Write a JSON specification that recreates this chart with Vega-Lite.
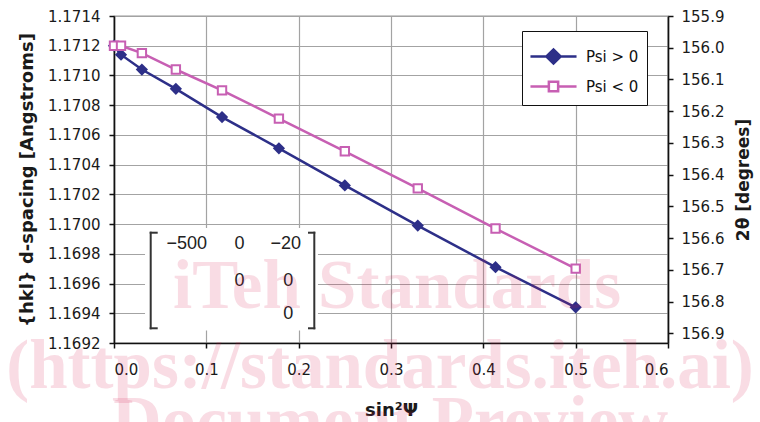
{
  "$schema": "https://vega.github.io/schema/vega-lite/v6.json",
  "width": 554,
  "height": 327,
  "autosize": {"type": "none"},
  "padding": {"left": 114, "top": 16, "right": 92, "bottom": 79},
  "background": "white",
  "config": {
    "font": "DejaVu Sans",
    "view": {"stroke": "#333333", "strokeWidth": 1.2},
    "axis": {
      "labelFont": "DejaVu Sans",
      "labelFontSize": 15,
      "labelColor": "#1a1a1a",
      "titleFont": "DejaVu Sans",
      "titleFontSize": 17,
      "titleFontWeight": "bold",
      "titleColor": "#1a1a1a",
      "domainColor": "#111111",
      "domainWidth": 1.6,
      "tickColor": "#111111",
      "tickWidth": 1.5,
      "tickSize": 5,
      "gridColor": "#a3a3a3",
      "gridWidth": 1.2
    }
  },
  "datasets": {
    "dspacing": [
      {"s": 0, "d": 1.1712, "series": "Psi > 0"},
      {"s": 0.0076, "d": 1.17114, "series": "Psi > 0"},
      {"s": 0.0302, "d": 1.17104, "series": "Psi > 0"},
      {"s": 0.067, "d": 1.17091, "series": "Psi > 0"},
      {"s": 0.117, "d": 1.17072, "series": "Psi > 0"},
      {"s": 0.1786, "d": 1.17051, "series": "Psi > 0"},
      {"s": 0.25, "d": 1.17026, "series": "Psi > 0"},
      {"s": 0.329, "d": 1.16999, "series": "Psi > 0"},
      {"s": 0.4132, "d": 1.16971, "series": "Psi > 0"},
      {"s": 0.5, "d": 1.16944, "series": "Psi > 0"},
      {"s": 0, "d": 1.1712, "series": "Psi < 0"},
      {"s": 0.0076, "d": 1.1712, "series": "Psi < 0"},
      {"s": 0.0302, "d": 1.17115, "series": "Psi < 0"},
      {"s": 0.067, "d": 1.17104, "series": "Psi < 0"},
      {"s": 0.117, "d": 1.1709, "series": "Psi < 0"},
      {"s": 0.1786, "d": 1.17071, "series": "Psi < 0"},
      {"s": 0.25, "d": 1.17049, "series": "Psi < 0"},
      {"s": 0.329, "d": 1.17024, "series": "Psi < 0"},
      {"s": 0.4132, "d": 1.16997, "series": "Psi < 0"},
      {"s": 0.5, "d": 1.1697, "series": "Psi < 0"}
    ],
    "matrixBox": [
      {"s": 0.0336, "s2": 0.2209, "d": 1.169974, "d2": 1.169284}
    ],
    "brackets": [
      {"s": 0.03975, "s2": 0.03975, "d": 1.169942, "d2": 1.169299},
      {"s": 0.03975, "s2": 0.04625, "d": 1.169942, "d2": 1.169942},
      {"s": 0.03975, "s2": 0.04625, "d": 1.169299, "d2": 1.169299},
      {"s": 0.21693, "s2": 0.21693, "d": 1.169942, "d2": 1.169299},
      {"s": 0.21119, "s2": 0.21693, "d": 1.169942, "d2": 1.169942},
      {"s": 0.21119, "s2": 0.21693, "d": 1.169299, "d2": 1.169299}
    ],
    "matrixEntries": [
      {"s": 0.0787, "d": 1.169863, "label": "−500"},
      {"s": 0.1359, "d": 1.169863, "label": "0"},
      {"s": 0.1859, "d": 1.169863, "label": "−20"},
      {"s": 0.1359, "d": 1.169617, "label": "0"},
      {"s": 0.1888, "d": 1.169617, "label": "0"},
      {"s": 0.1888, "d": 1.169397, "label": "0"}
    ],
    "stamp": [
      {"s": 0.3065, "d": 1.169435, "label": "iTeh Standards"},
      {"s": 0.2881, "d": 1.168897, "label": "(https://standards.iteh.ai)"},
      {"s": 0.2989, "d": 1.16852, "label": "Document Preview"}
    ],
    "twoTheta": [
      {"tt": 155.9},
      {"tt": 156.9}
    ]
  },
  "layer": [
    {
      "encoding": {
        "x": {
          "field": "s",
          "type": "quantitative",
          "scale": {"domain": [0, 0.6], "nice": false, "zero": false},
          "axis": {
            "title": "sin²Ψ",
            "titleFontSize": 18,
            "values": [0, 0.1, 0.2, 0.3, 0.4, 0.5, 0.6],
            "format": ".1f",
            "labelPadding": 14,
            "titlePadding": 24,
            "encode": {"ticks": {"update": {"y": {"value": -5}}}}
          }
        },
        "y": {
          "field": "d",
          "type": "quantitative",
          "scale": {"domain": [1.1692, 1.1714], "nice": false, "zero": false},
          "axis": {
            "title": "{hkl} d-spacing [Angstroms]",
            "titleFontSize": 18,
            "orient": "left",
            "values": [1.1692, 1.1694, 1.1696, 1.1698, 1.17, 1.1702, 1.1704, 1.1706, 1.1708, 1.171, 1.1712, 1.1714],
            "format": ".4f",
            "labelPadding": 9,
            "titlePadding": 11,
            "encode": {"ticks": {"update": {"x": {"value": 5}}}}
          }
        }
      },
      "layer": [
        {
          "data": {"name": "matrixBox"},
          "mark": {"type": "rect", "fill": "white", "stroke": null},
          "encoding": {"x2": {"field": "s2"}, "y2": {"field": "d2"}}
        },
        {
          "data": {"name": "brackets"},
          "mark": {"type": "rule", "stroke": "#333333", "strokeWidth": 2, "strokeCap": "square"},
          "encoding": {"x2": {"field": "s2"}, "y2": {"field": "d2"}}
        },
        {
          "data": {"name": "matrixEntries"},
          "mark": {"type": "text", "font": "Liberation Sans", "fontSize": 18, "color": "#222222", "align": "center", "baseline": "middle"},
          "encoding": {"text": {"field": "label"}}
        },
        {
          "data": {"name": "dspacing"},
          "mark": {"type": "line", "strokeWidth": 2.5},
          "encoding": {
            "color": {
              "field": "series",
              "type": "nominal",
              "scale": {"domain": ["Psi > 0", "Psi < 0"], "range": ["#2d2f88", "#c75fb3"]},
              "legend": {
                "title": null,
                "orient": "none",
                "legendX": 408,
                "legendY": 15,
                "padding": 8,
                "strokeColor": "#111111",
                "fillColor": "white",
                "labelFont": "DejaVu Sans",
                "labelFontSize": 15,
                "labelColor": "#111111",
                "symbolSize": 1024,
                "symbolOffset": 6,
                "labelOffset": 15,
                "rowPadding": 0,
                "encode": {
                  "symbols": {
                    "update": {
                      "shape": {"signal": "datum.value === 'Psi > 0' ? 'M-1.44,0L-0.44,0L0,-0.44L0.44,0L1.44,0L0.44,0L0,0.44L-0.44,0Z' : 'M-1.44,0L-0.29,0L-0.29,-0.29L0.29,-0.29L0.29,0L1.44,0L0.29,0L0.29,0.29L-0.29,0.29L-0.29,0Z'"},
                      "fill": {"signal": "datum.value === 'Psi > 0' ? '#2d2f88' : '#ffffff'"},
                      "stroke": {"signal": "datum.value === 'Psi > 0' ? '#2d2f88' : '#c75fb3'"},
                      "strokeWidth": {"value": 2.5},
                      "strokeJoin": {"value": "miter"},
                      "opacity": {"value": 1}
                    }
                  }
                }
              }
            }
          }
        },
        {
          "data": {"name": "dspacing"},
          "transform": [{"filter": "datum.series === 'Psi > 0'"}],
          "mark": {"type": "point", "shape": "diamond", "filled": true, "color": "#2d2f88", "size": 150, "opacity": 1}
        },
        {
          "data": {"name": "dspacing"},
          "transform": [{"filter": "datum.series === 'Psi < 0'"}],
          "mark": {"type": "point", "shape": "square", "filled": false, "fill": "#ffffff", "stroke": "#c75fb3", "strokeWidth": 2, "size": 70, "opacity": 1}
        },
        {
          "data": {"name": "stamp"},
          "mark": {"type": "text", "font": "Liberation Serif", "fontWeight": "bold", "fontSize": 69, "color": "#d81b50", "opacity": 0.15, "align": "center", "baseline": "alphabetic"},
          "encoding": {"text": {"field": "label"}}
        }
      ]
    },
    {
      "data": {"name": "twoTheta"},
      "mark": {"type": "rule", "opacity": 0},
      "encoding": {
        "y": {
          "field": "tt",
          "type": "quantitative",
          "scale": {"domain": [155.9, 156.93], "reverse": true, "nice": false, "zero": false},
          "axis": {
            "title": "2θ [degrees]",
            "orient": "right",
            "grid": false,
            "values": [155.9, 156, 156.1, 156.2, 156.3, 156.4, 156.5, 156.6, 156.7, 156.8, 156.9],
            "format": ".1f",
            "labelPadding": 8,
            "titlePadding": 12,
            "titleAngle": 270,
            "titleBaseline": "top",
            "encode": {"ticks": {"update": {"x": {"value": -5}}}}
          }
        }
      }
    }
  ],
  "resolve": {"scale": {"y": "independent"}}
}
